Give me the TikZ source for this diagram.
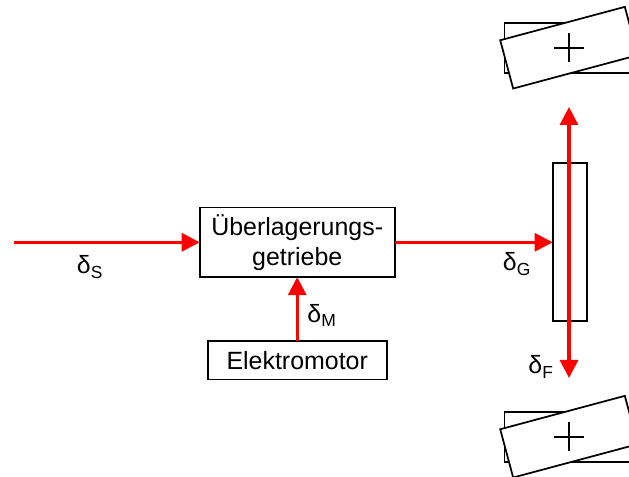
\documentclass[tikz,border=0pt]{standalone}
\usepackage{fontspec}
\setmainfont{Liberation Sans}
\usetikzlibrary{arrows.meta}
\tikzset{
	kasten/.style={draw=black, line width=1.3pt, fill=white, inner sep=0pt, outer sep=0pt},
	kreuz/.style={black, line width=1.3pt},
	signal/.style={red, line width=2.3pt, -{Triangle[length=13.5pt,width=13.5pt]}},
	beschriftung/.style={inner sep=0pt, text=black}
}
\begin{document}
\begin{tikzpicture} [x=0.75pt, y=-0.75pt, font=\fontsize{18.7}{22.5}\selectfont, line join=miter]
				\useasboundingbox (0,0) rectangle (629,477);
				\clip (0,0) rectangle (629,477);
				% Vorderraeder
				\node[kasten, minimum width=96.75pt, minimum height=37.5pt] (radOben) at (569,47.7) {};
				\node[kasten, minimum width=96.75pt, minimum height=37.5pt, rotate=15] (radObenLenk) at (569,47.7) {};
				\node[kasten, minimum width=96.75pt, minimum height=37.5pt] (radUnten) at (569,436.7) {};
				\node[kasten, minimum width=96.75pt, minimum height=37.5pt, rotate=15] (radUntenLenk) at (569,436.7) {};
				\draw[kreuz] (554.2,47.7)--(584,47.7);
				\draw[kreuz] (569,32.7)--(569,62.5);
				\draw[kreuz] (554.2,436.7)--(584,436.7);
				\draw[kreuz] (569,421.7)--(569,451.5);
				% Kasten
				\node[kasten, minimum width=146.25pt, minimum height=52.2pt, align=center] (getriebe) at (297.2,242.3) {Überlagerungs-\\getriebe};
				\node[kasten, minimum width=134.25pt, minimum height=29pt] (motor) at (297.2,360.3) {Elektromotor};
				\node[kasten, minimum width=26pt, minimum height=118.5pt] (zahnstange) at (570,242.3) {};
				% Signale
				\coordinate (eingang) at (14,242.3);
				\coordinate (spitzeOben) at (569,107);
				\coordinate (spitzeUnten) at (569,378);
				\draw[signal] (eingang)--(getriebe);
				\draw[signal] (motor)--(getriebe);
				\draw[signal] (getriebe)--(zahnstange);
				\draw[signal, {Triangle[length=13.5pt,width=13.5pt]}-{Triangle[length=13.5pt,width=13.5pt]}] (spitzeOben)--(spitzeUnten);
				% Winkel
				\node[beschriftung] (deltaS) at (90,267) {δ\textsubscript{S}};
				\node[beschriftung] (deltaM) at (322,315.5) {δ\textsubscript{M}};
				\node[beschriftung] (deltaG) at (517,264) {δ\textsubscript{G}};
				\node[beschriftung] (deltaF) at (541,367) {δ\textsubscript{F}};
			\end{tikzpicture}
\end{document}
